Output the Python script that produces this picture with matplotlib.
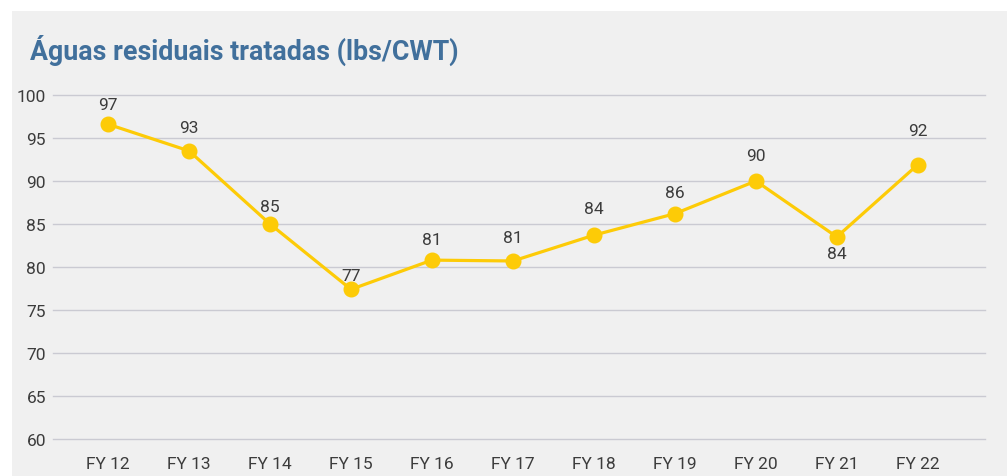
import matplotlib.pyplot as plt
from matplotlib.patches import Rectangle

# data
years = ["FY 12", "FY 13", "FY 14", "FY 15", "FY 16", "FY 17",
         "FY 18", "FY 19", "FY 20", "FY 21", "FY 22"]
values = [96.6, 93.5, 85.0, 77.4, 80.8, 80.7, 83.7, 86.2, 90.0, 83.5, 91.9]
labels = ["97", "93", "85", "77", "81", "81", "84", "86", "90", "84", "92"]
yticks = [60, 65, 70, 75, 80, 85, 90, 95, 100]

# label offsets in pixels (negative = below the point)
label_dy = [20, 23, 17, 14, 21, 23, 27, 21, 25, -17, 34]

plt.rcParams['font.family'] = ['Roboto', 'DejaVu Sans']

W, H = 1007, 477
fig = plt.figure(figsize=(W / 100, H / 100), dpi=100)
fig.patch.set_facecolor("white")

# grey panel behind everything
panel = Rectangle((12 / W, 0), 1 - 12 / W, 1 - 12 / H,
                  transform=fig.transFigure, facecolor="#f0f0f0",
                  edgecolor="none", zorder=-10)
fig.add_artist(panel)

fig.text(30 / W, 1 - 50 / H, "Águas residuais tratadas (lbs/CWT)",
         color="#41709c", fontsize=19.3, fontweight="bold", va="center", ha="left")

ax = fig.add_axes([53 / W, 1 - 440 / H, (985 - 53) / W, (440 - 96) / H])
ax.set_facecolor("none")

x = list(range(len(years)))
ax.plot(x, values, color="#fdcb07", lw=2.3, marker="o", markersize=10.5,
        zorder=3, clip_on=False)

for xi, v, lab, dy in zip(x, values, labels, label_dy):
    ax.annotate(lab, (xi, v), xytext=(0, dy), textcoords="offset pixels",
                ha="center", va="center", fontsize=12.5, color="#3c3c3c")

ax.set_xlim(-0.68, 10.83)
ax.set_ylim(60, 100)
ax.set_yticks(yticks)
ax.set_xticks(x)
ax.set_xticklabels(years)
ax.grid(axis="y", color="#cacad2", lw=1.0)
for gl in ax.get_ygridlines():
    gl.set_clip_on(False)
ax.set_axisbelow(True)
for s in ax.spines.values():
    s.set_visible(False)
ax.tick_params(axis="both", length=0, labelsize=12.5, colors="#3c3c3c")
ax.tick_params(axis="y", pad=5)
ax.tick_params(axis="x", pad=12)

fig.savefig("out.png", dpi=100, facecolor=fig.get_facecolor())
